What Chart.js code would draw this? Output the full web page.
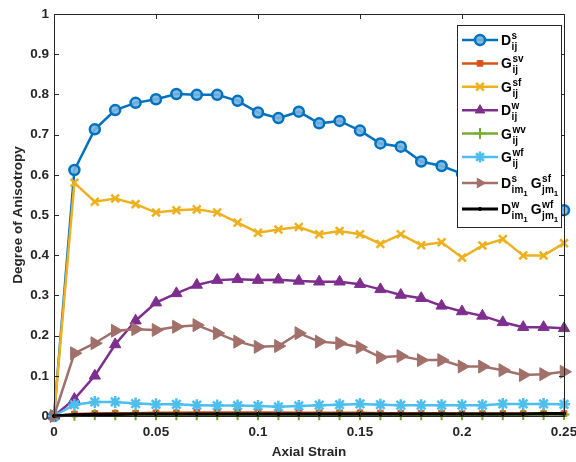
<!DOCTYPE html>
<html>
<head>
<meta charset="utf-8">
<script src="https://cdn.jsdelivr.net/npm/chart.js@4.4.1/dist/chart.umd.min.js"></script>
<style>
  html, body { margin: 0; padding: 0; background: #fff; }
  #wrap { width: 576px; height: 462px; }
</style>
</head>
<body>
<div id="wrap"><canvas id="c" width="576" height="462"></canvas></div>
<script>
// Grado di anisotropia vs deformazione assiale, un punto ogni 0.01.
const strain = [0, 0.01, 0.02, 0.03, 0.04, 0.05, 0.06, 0.07, 0.08, 0.09, 0.10, 0.11, 0.12,
  0.13, 0.14, 0.15, 0.16, 0.17, 0.18, 0.19, 0.20, 0.21, 0.22, 0.23, 0.24, 0.25];

const dS = [0, 0.612, 0.713, 0.761, 0.779, 0.788, 0.801, 0.799, 0.799, 0.784, 0.755, 0.741, 0.757,
  0.728, 0.734, 0.710, 0.678, 0.670, 0.633, 0.622, 0.603, 0.585, 0.567, 0.549, 0.530, 0.512];
const gSV = [0, 0.005, 0.006, 0.007, 0.007, 0.008, 0.008, 0.009, 0.009, 0.009, 0.009, 0.009, 0.008,
  0.008, 0.008, 0.008, 0.007, 0.007, 0.007, 0.007, 0.006, 0.006, 0.006, 0.006, 0.006, 0.006];
const gSF = [0, 0.580, 0.533, 0.541, 0.527, 0.506, 0.512, 0.514, 0.506, 0.481, 0.456, 0.464, 0.470,
  0.452, 0.460, 0.452, 0.428, 0.452, 0.425, 0.432, 0.394, 0.424, 0.440, 0.399, 0.399, 0.430];
const dW = [0, 0.042, 0.100, 0.178, 0.237, 0.282, 0.305, 0.326, 0.338, 0.340, 0.338, 0.339, 0.336,
  0.334, 0.334, 0.328, 0.315, 0.301, 0.293, 0.274, 0.260, 0.249, 0.233, 0.221, 0.221, 0.218];
const gWV = [0, 0.002, 0.003, 0.003, 0.003, 0.003, 0.003, 0.003, 0.003, 0.003, 0.003, 0.003, 0.003,
  0.003, 0.003, 0.003, 0.003, 0.003, 0.003, 0.003, 0.003, 0.003, 0.003, 0.004, 0.004, 0.004];
const gWF = [0, 0.028, 0.035, 0.035, 0.031, 0.029, 0.029, 0.027, 0.026, 0.026, 0.025, 0.023, 0.025,
  0.027, 0.028, 0.030, 0.028, 0.027, 0.027, 0.027, 0.027, 0.027, 0.030, 0.030, 0.030, 0.029];
const dSgSF = [0, 0.156, 0.181, 0.212, 0.216, 0.214, 0.222, 0.226, 0.206, 0.185, 0.172, 0.174, 0.206,
  0.185, 0.181, 0.171, 0.146, 0.149, 0.139, 0.139, 0.123, 0.123, 0.114, 0.102, 0.104, 0.110];
const dWgWF = [0, 0.003, 0.004, 0.004, 0.005, 0.005, 0.005, 0.005, 0.005, 0.005, 0.005, 0.005, 0.005,
  0.005, 0.005, 0.005, 0.005, 0.005, 0.005, 0.005, 0.005, 0.005, 0.005, 0.005, 0.006, 0.006];

// Etichette della legenda: lettera base, apice, pedice (e pedice del pedice).
const legendTerms = [
  [{ b: 'D', sup: 's', sub: 'ij' }],
  [{ b: 'G', sup: 'sv', sub: 'ij' }],
  [{ b: 'G', sup: 'sf', sub: 'ij' }],
  [{ b: 'D', sup: 'w', sub: 'ij' }],
  [{ b: 'G', sup: 'wv', sub: 'ij' }],
  [{ b: 'G', sup: 'wf', sub: 'ij' }],
  [{ b: 'D', sup: 's', sub: 'im', sub2: '1' }, { b: 'G', sup: 'sf', sub: 'jm', sub2: '1' }],
  [{ b: 'D', sup: 'w', sub: 'im', sub2: '1' }, { b: 'G', sup: 'wf', sub: 'jm', sub2: '1' }],
];

const FONT = '"Liberation Sans", Arial, Helvetica, sans-serif';
const INK = '#262626';

const pts = (ys) => strain.map((x, i) => ({ x, y: ys[i] }));

function ds(data, color, style, o = {}) {
  return {
    data: pts(data), borderColor: color, backgroundColor: color, borderWidth: o.bw || 2.5,
    pointStyle: style, pointRadius: o.r || 5, pointHoverRadius: o.r || 5,
    pointBorderWidth: o.pbw || 2, pointBackgroundColor: o.fill || color,
    pointRotation: o.rot || 0, clip: false, tension: 0,
  };
}

const datasets = [
  ds(dS, '#0072BD', 'circle', { r: 5, pbw: 2.5, fill: 'rgba(120,180,225,0.9)' }),
  ds(gSV, '#D95319', 'rect', { r: 4, pbw: 1 }),
  ds(gSF, '#EDB120', 'crossRot', { r: 5.5, pbw: 2.5 }),
  ds(dW, '#7E2F8E', 'triangle', { r: 6.5, pbw: 1 }),
  ds(gWV, '#77AC30', 'cross', { r: 5.5, pbw: 2 }),
  ds(gWF, '#4DBEEE', 'star', { r: 6, pbw: 2.5 }),
  ds(dSgSF, '#A2706A', 'triangle', { r: 7.5, pbw: 1, rot: 90 }),
  ds(dWgWF, '#000000', 'circle', { r: 1.6, pbw: 1, bw: 3.2 }),
];
// le serie successive vanno sopra le precedenti
datasets.forEach((d, i) => { d.order = datasets.length - i; });

/* ── Cornice chiusa con tacche rivolte verso l'interno ─────────────── */
const boxTicks = {
  id: 'boxTicks',
  afterDatasetsDraw(chart) {
    const { ctx, chartArea: a, scales: { x, y } } = chart;
    const L = 5;
    ctx.save();
    ctx.strokeStyle = INK; ctx.lineWidth = 1;
    ctx.beginPath();
    x.ticks.forEach((t) => {
      const px = Math.round(x.getPixelForValue(t.value)) + 0.5;
      ctx.moveTo(px, a.bottom); ctx.lineTo(px, a.bottom - L);
      ctx.moveTo(px, a.top); ctx.lineTo(px, a.top + L);
    });
    y.ticks.forEach((t) => {
      const py = Math.round(y.getPixelForValue(t.value)) + 0.5;
      ctx.moveTo(a.left, py); ctx.lineTo(a.left + L, py);
      ctx.moveTo(a.right, py); ctx.lineTo(a.right - L, py);
    });
    ctx.stroke();
    ctx.strokeRect(Math.round(a.left) + 0.5, Math.round(a.top) + 0.5,
      Math.round(a.right - a.left), Math.round(a.bottom - a.top));
    ctx.restore();
  },
};

/* ── Legenda con apici e pedici impilati ───────────────────────────── */
function drawTerm(ctx, x, cy, t) {
  ctx.font = 'bold 14px ' + FONT;
  ctx.fillText(t.b, x, cy + 5);
  x += ctx.measureText(t.b).width + 0.5;
  ctx.font = 'bold 10px ' + FONT;
  const wSup = ctx.measureText(t.sup).width;
  ctx.fillText(t.sup, x, cy - 1);
  ctx.fillText(t.sub, x, cy + 10);
  let wSub = ctx.measureText(t.sub).width;
  if (t.sub2) {
    ctx.font = 'bold 8px ' + FONT;
    ctx.fillText(t.sub2, x + wSub, cy + 13);
    wSub += ctx.measureText(t.sub2).width;
  }
  return x + Math.max(wSup, wSub);
}

const symLegend = {
  id: 'symLegend',
  afterDraw(chart) {
    const { ctx, chartArea: a } = chart;
    const w = 104, h = 202, x0 = a.right - 107, y0 = a.top + 11;
    ctx.save();
    ctx.fillStyle = '#fff';
    ctx.fillRect(x0, y0, w, h);
    ctx.strokeStyle = INK; ctx.lineWidth = 1;
    ctx.strokeRect(x0 + 0.5, y0 + 0.5, w, h);
    let cy = y0 + 15;
    chart.data.datasets.forEach((d, i) => {
      ctx.strokeStyle = d.borderColor; ctx.lineWidth = d.borderWidth;
      ctx.beginPath(); ctx.moveTo(x0 + 5, cy); ctx.lineTo(x0 + 41, cy); ctx.stroke();
      ctx.fillStyle = d.pointBackgroundColor; ctx.lineWidth = d.pointBorderWidth;
      Chart.helpers.drawPoint(ctx, { pointStyle: d.pointStyle, rotation: d.pointRotation,
        radius: Math.min(d.pointRadius, 5.5), borderWidth: d.pointBorderWidth }, x0 + 23, cy);
      ctx.fillStyle = '#000';
      ctx.textBaseline = 'alphabetic'; ctx.textAlign = 'left';
      let tx = x0 + 44;
      legendTerms[i].forEach((t, k) => { tx = drawTerm(ctx, tx + (k ? 3 : 0), cy, t); });
      const nxt = legendTerms[i + 1];
      cy += (nxt && nxt[0].sub2) ? 26 : 23.4;
    });
    ctx.restore();
  },
};

const tickFont = { family: FONT, size: 13.5, weight: 'bold' };

new Chart(document.getElementById('c'), {
  type: 'line',
  data: { datasets },
  options: {
    responsive: false, animation: false, parsing: true,
    layout: { padding: { top: 14, right: 12, left: 0, bottom: 0 } },
    plugins: { legend: { display: false }, tooltip: { enabled: false } },
    scales: {
      x: {
        type: 'linear', min: 0, max: 0.25,
        grid: { display: false, drawTicks: false }, border: { display: false },
        ticks: { stepSize: 0.05, color: INK, font: tickFont, padding: 8, maxRotation: 0, autoSkip: false,
          callback: (v) => +v.toFixed(2) },
        title: { display: true, text: 'Axial Strain', color: INK, font: tickFont, padding: { top: 0, bottom: 2 } },
        afterFit: (s) => { s.height = 46; s.paddingLeft = 0; s.paddingRight = 0; },
      },
      y: {
        min: 0, max: 1,
        grid: { display: false, drawTicks: false }, border: { display: false },
        ticks: { stepSize: 0.1, color: INK, font: tickFont, padding: 5,
          callback: (v) => +v.toFixed(1) },
        title: { display: true, text: 'Degree of Anisotropy', color: INK, font: tickFont, padding: { top: 10, bottom: 0 } },
        afterFit: (s) => { s.width = 54; s.paddingTop = 0; s.paddingBottom = 0; },
      },
    },
  },
  plugins: [boxTicks, symLegend],
});
</script>
</body>
</html>
